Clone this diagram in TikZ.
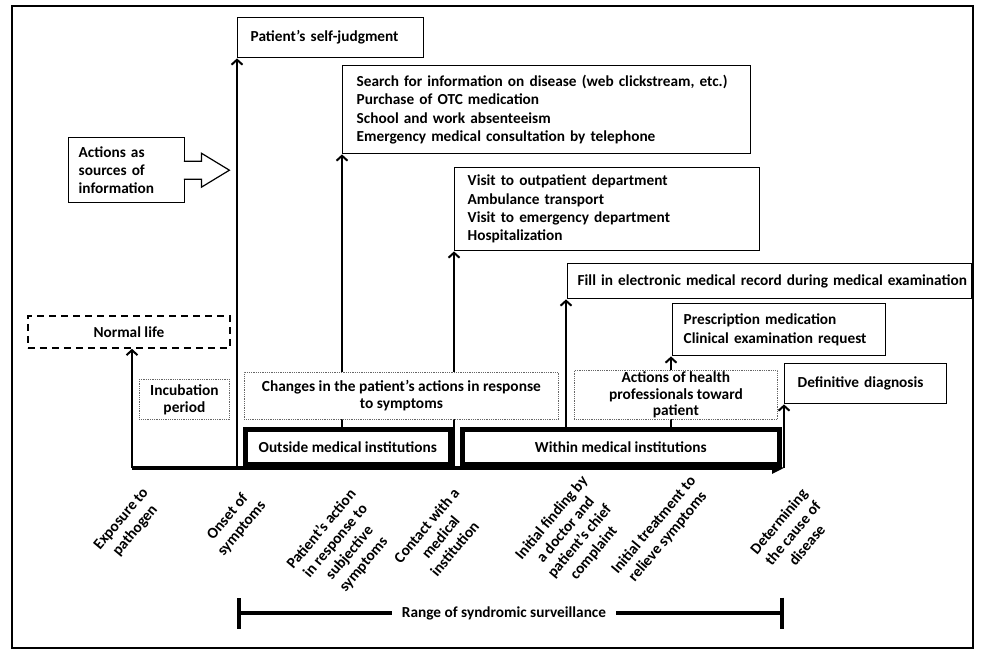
\documentclass[tikz,border=0pt]{standalone}
\usepackage{fontspec}
\setmainfont{Carlito}
\usetikzlibrary{arrows.meta,backgrounds}

\tikzset{
  infobox/.style={draw, fill=white, line width=1.4pt, anchor=north west, align=left, inner ysep=0pt, inner xsep=13pt},
  notebox/.style={draw=black!60, densely dotted, fill=white, line width=0.8pt, anchor=north west, align=center, inner sep=0pt, font=\fontsize{15.4}{16.8}\selectfont\bfseries},
  placebox/.style={draw, fill=white, line width=4.5pt, anchor=north west, align=center, inner sep=0pt},
  stepline/.style={line width=2pt, -{Straight Barb[length=5pt,width=11pt]}},
  timelabel/.style={rotate=50, anchor=north east, align=center, inner sep=0pt, font=\fontsize{15.4}{18.3}\selectfont\bfseries},
}

\begin{document}
\begin{tikzpicture}[x=1pt, y=-1pt, font=\fontsize{15.3}{18.4}\selectfont\bfseries]
  \useasboundingbox (0,0) rectangle (981,655);
  \draw[line width=1.5pt] (12,6) rectangle (973,648);

  % points on the time axis
  \coordinate (t0) at (132,468);
  \coordinate (t1) at (237,468);
  \coordinate (t2) at (342,468);
  \coordinate (t3) at (454,468);
  \coordinate (t4) at (566,468);
  \coordinate (t5) at (671,468);
  \coordinate (t6) at (784,468);

  % information boxes
  \node[infobox, text width=160pt, minimum height=40pt] (self) at (237,17) {Patient's self-judgment};
  \node[infobox, inner xsep=14pt, text width=380pt, minimum height=88pt] (search) at (342,65) {\mbox{Search for information on disease (web clickstream, etc.)}\\Purchase of OTC medication\\School and work absenteeism\\Emergency medical consultation by telephone};
  \node[infobox, text width=279pt, minimum height=83pt] (visit) at (454,167) {Visit to outpatient department\\Ambulance transport\\Visit to emergency department\\Hospitalization};
  \node[infobox, inner xsep=10pt, text width=384pt, minimum height=35pt] (fill) at (567,263) {\mbox{Fill in electronic medical record during medical examination}};
  \node[infobox, inner xsep=11pt, text width=191pt, minimum height=52pt] (presc) at (672,303) {Prescription medication\\Clinical examination request};
  \node[infobox, text width=136pt, minimum height=40pt] (defin) at (784,363) {Definitive diagnosis};
  \node[infobox, inner xsep=10pt, text width=96pt, minimum height=65pt] (acts) at (68,137) {Actions as\\sources of\\information};
  \draw[fill=white, line width=1.2pt] (acts.east) ++(-1.5,-9) -- ++(17.5,0) -- ++(0,-8) -- ++(28,17) -- ++(-28,17) -- ++(0,-8) -- ++(-17.5,0);
  \node[infobox, dash pattern=on 7pt off 5pt, line width=1.8pt, align=center, inner sep=0pt, minimum width=202pt, minimum height=32pt] (normal) at (27,315) {Normal life};

  % periods and places
  \node[notebox, minimum width=90pt, minimum height=40pt] (incub) at (139,379) {Incubation\\period};
  \node[notebox, minimum width=314pt, minimum height=47pt] (changes) at (244,372) {Changes in the patient's actions in response\\to symptoms};
  \node[notebox, minimum width=203pt, minimum height=49pt] (health) at (574,370) {Actions of health\\professionals toward\\patient};
  \node[placebox, minimum width=205pt, minimum height=35pt] (outside) at (243,427) {Outside medical institutions};
  \node[placebox, minimum width=317pt, minimum height=35pt] (within) at (460,427) {Within medical institutions};

  \begin{scope}[on background layer]
    \draw[line width=4pt, -{Triangle[length=12pt,width=11pt]}] (t0) -- (t6);
    \draw[stepline] (t0) -- (t0 |- normal.south);
    \draw[stepline] (t1) -- (t1 |- self.south);
    \draw[stepline] (t2) -- (t2 |- search.south);
    \draw[stepline] (t3) -- (t3 |- visit.south);
    \draw[stepline] (t4) -- (t4 |- fill.south);
    \draw[stepline] (t5) -- (t5 |- presc.south);
    \draw[stepline] (t6) -- (t6 |- defin.south);
  \end{scope}

  % milestones
  \node[timelabel] (lab0) at (141,486) {Exposure to\\pathogen};
  \node[timelabel] (lab1) at (244,487) {Onset of\\symptoms};
  \node[timelabel] (lab2) at (348,487) {Patient's action\\in response to\\subjective\\symptoms};
  \node[timelabel] (lab3) at (452,486) {Contact with a\\medical\\institution};
  \node[timelabel] (lab4) at (580,474) {Initial finding by\\a doctor and\\patient's chief\\complaint};
  \node[timelabel] (lab5) at (688,474) {Initial treatment to\\relieve symptoms};
  \node[timelabel] (lab6) at (800,487) {Determining\\the cause of\\disease};

  % surveillance range
  \coordinate (r0) at (237,613);
  \coordinate (r1) at (784,613);
  \node[inner xsep=10pt] (range) at (504,613) {Range of syndromic surveillance};
  \draw[line width=4pt, {Bar[width=31pt]}-] (r0) -- (range.west);
  \draw[line width=4pt, -{Bar[width=31pt]}] (range.east) -- (r1);
\end{tikzpicture}
\end{document}
